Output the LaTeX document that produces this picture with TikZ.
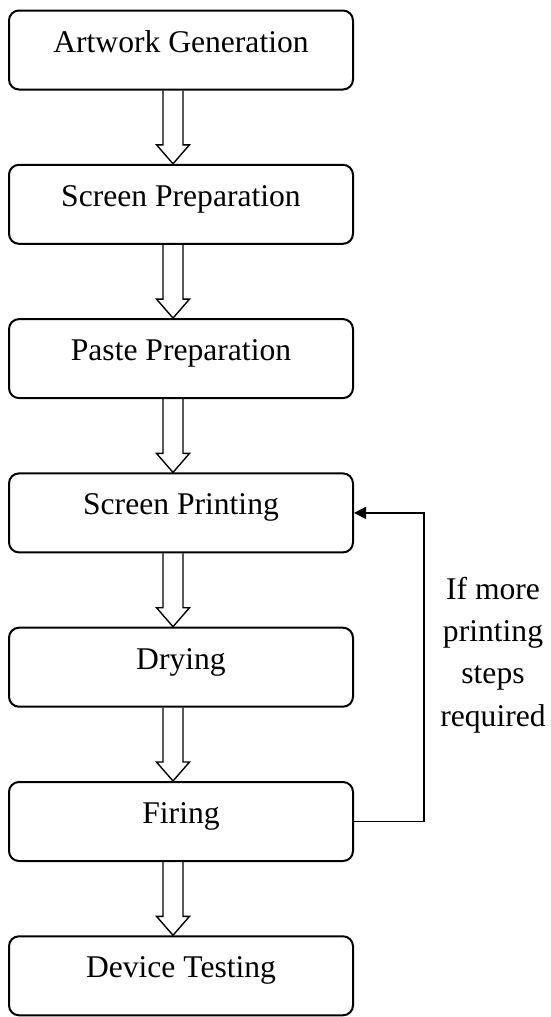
\documentclass[tikz,border=0pt]{standalone}
\usepackage{fontspec}
\setmainfont{LiberationSerif}[Extension=.ttf, UprightFont=*-Regular, BoldFont=*-Bold]
\usetikzlibrary{calc,arrows.meta}
\begin{document}
\begin{tikzpicture}[x=0.5pt,y=0.5pt,font=\rmfamily\fontsize{15.8pt}{21.2pt}\selectfont]
\tikzstyle{stage}=[draw, rectangle, rounded corners=5pt, line width=1pt, minimum width=172pt, minimum height=39.5pt, text height=0.68em, text depth=0.48em, text centered]
\tikzstyle{hollow}=[draw, line width=0.7pt, to path={($(\tikztostart)+(-18,0)$) -- ($(\tikztotarget)+(-18,19)$) -- ($(\tikztotarget)+(-24.5,19)$) -- ($(\tikztotarget)+(-8,0)$) -- ($(\tikztotarget)+(8.5,19)$) -- ($(\tikztotarget)+(2,19)$) -- ($(\tikztostart)+(2,0)$)}]
\tikzstyle{loop}=[draw, line width=0.7pt, -{Triangle[length=6pt,width=6pt]}]

\useasboundingbox (0,0) rectangle (551,-1017);

% Define stages
\node[stage] (art) at (181,-50) {Artwork Generation};
\node[stage] (screen) at (181,-204.3) {Screen Preparation};
\node[stage] (paste) at (181,-358.6) {Paste Preparation};
\node[stage] (print) at (181,-512.9) {Screen Printing};
\node[stage] (dry) at (181,-667.2) {Drying};
\node[stage] (fire) at (181,-821.5) {Firing};
\node[stage] (test) at (181,-975.8) {Device Testing};

% Block arrows
\draw[hollow] (art.south) to (screen.north);
\draw[hollow] (screen.south) to (paste.north);
\draw[hollow] (paste.south) to (print.north);
\draw[hollow] (print.south) to (dry.north);
\draw[hollow] (dry.south) to (fire.north);
\draw[hollow] (fire.south) to (test.north);

% Repeat loop
\draw[loop] (fire.east) -- ++(70,0) |- (print.east);
\node[align=center] (repeat) at (493,-655) {If more\\printing\\steps\\required};
\end{tikzpicture}
\end{document}
